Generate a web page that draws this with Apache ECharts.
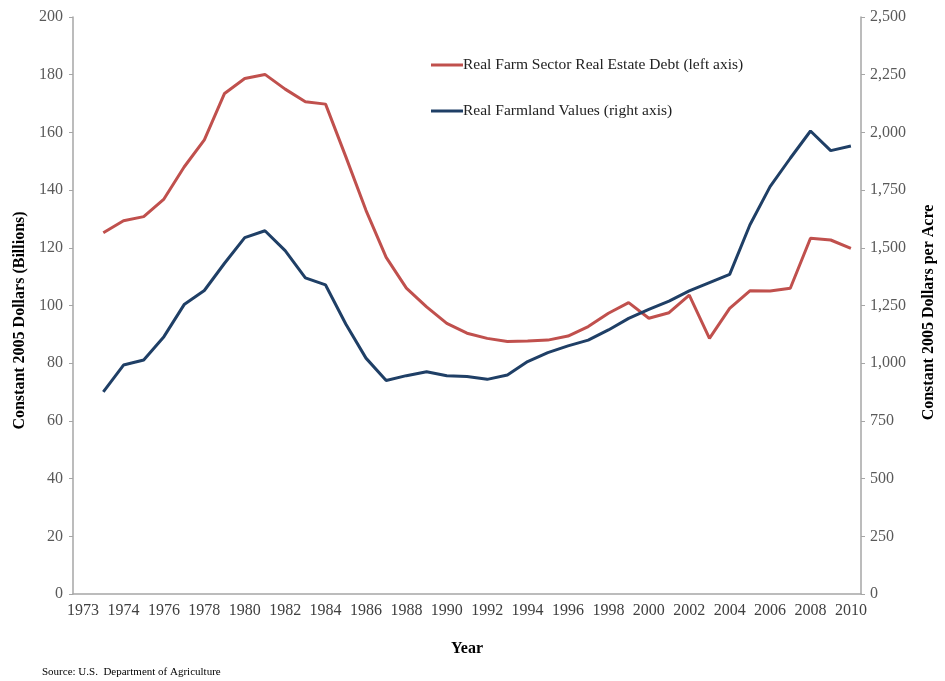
<!DOCTYPE html>
<html>
<head>
<meta charset="utf-8">
<script src="https://cdn.jsdelivr.net/npm/echarts@6/dist/echarts.min.js"></script>
<style>html,body{margin:0;padding:0;background:#fff;overflow:hidden}#c{width:945px;height:681px}</style>
</head>
<body>
<div id="c"></div>
<script>
// Years of data
const years = [1973,1974,1975,1976,1977,1978,1979,1980,1981,1982,1983,1984,1985,1986,1987,1988,1989,1990,1991,1992,1993,1994,1995,1996,1997,1998,1999,2000,2001,2002,2003,2004,2005,2006,2007,2008,2009,2010];
// Real Farm Sector Real Estate Debt (billions, left axis)
const debt = [125.2,129.4,130.8,136.9,148.0,157.4,173.5,178.7,180.1,175.0,170.6,169.8,151.6,133.0,116.7,106.0,99.5,93.8,90.4,88.6,87.5,87.7,88.0,89.4,92.7,97.3,101.0,95.6,97.5,103.6,88.6,99.0,105.1,105.0,106.0,123.3,122.7,119.8];
// Real Farmland Values (dollars per acre, right axis)
const land = [876,992,1014,1115,1254,1315,1433,1544,1574,1488,1370,1339,1170,1022,925,946,963,946,942,930,949,1007,1046,1075,1100,1144,1194,1233,1269,1313,1349,1385,1599,1765,1888,2006,1921,1941];
// Tick labels shown on the category axis (every other slot)
const xTickLabels = ['1973','1974','1976','1978','1980','1982','1984','1986','1988','1990','1992','1994','1996','1998','2000','2002','2004','2006','2008','2010'];

const cats = [''].concat(years.map(String)); // leading empty slot as in the original
const debtData = [null].concat(debt);
const landData = [null].concat(land);

const serif = 'Liberation Serif';
const chart = echarts.init(document.getElementById('c'));
chart.setOption({
  animation: false,
  backgroundColor: '#fff',
  grid: {left: 73, right: 75, top: 17, bottom: 87, containLabel: false},
  legend: {
    orient: 'vertical', left: 426, top: 52, itemGap: 30,
    itemWidth: 32, itemHeight: 3, icon: 'rect',
    textStyle: {fontFamily: serif, fontSize: 15.5, color: '#222', padding: [0, 0, 0, -5]},
    data: ['Real Farm Sector Real Estate Debt (left axis)', 'Real Farmland Values (right axis)']
  },
  xAxis: {
    type: 'category', data: cats, boundaryGap: true,
    name: 'Year', nameLocation: 'middle', nameGap: 47,
    nameTextStyle: {fontFamily: serif, fontSize: 16, fontWeight: 'bold', color: '#000'},
    axisLine: {lineStyle: {color: '#a6a6a6', width: 1.5}},
    axisTick: {interval: 1, length: 4, lineStyle: {color: '#a6a6a6'}},
    axisLabel: {interval: 1, margin: 9, fontFamily: serif, fontSize: 16, color: '#404040',
      formatter: function (v, i) { return xTickLabels[i / 2] || ''; }},
    splitLine: {show: false}
  },
  yAxis: [{
    type: 'value', min: 0, max: 200, interval: 20, position: 'left',
    name: 'Constant 2005 Dollars (Billions)', nameLocation: 'middle', nameGap: 44,
    nameTextStyle: {fontFamily: serif, fontSize: 16, fontWeight: 'bold', color: '#000', padding: [0, 30, 0, 0]},
    axisLine: {show: true, lineStyle: {color: '#a6a6a6', width: 1.5}},
    axisTick: {show: true, length: 4, lineStyle: {color: '#a6a6a6'}},
    axisLabel: {margin: 10, fontFamily: serif, fontSize: 16, color: '#595959'},
    splitLine: {show: false}
  }, {
    type: 'value', min: 0, max: 2500, interval: 250, position: 'right',
    name: 'Constant 2005 Dollars per Acre', nameLocation: 'middle', nameGap: 60,
    nameRotate: 90,
    nameTextStyle: {fontFamily: serif, fontSize: 16, fontWeight: 'bold', color: '#000', padding: [0, 14, 0, 0]},
    axisLine: {show: true, lineStyle: {color: '#a6a6a6', width: 1.5}},
    axisTick: {show: true, length: 4, lineStyle: {color: '#a6a6a6'}},
    axisLabel: {margin: 9, fontFamily: serif, fontSize: 16, color: '#595959',
      formatter: function (v) { return v.toLocaleString('en-US'); }},
    splitLine: {show: false}
  }],
  series: [{
    name: 'Real Farm Sector Real Estate Debt (left axis)', type: 'line', yAxisIndex: 0,
    data: debtData, showSymbol: false, symbol: 'none',
    lineStyle: {color: '#c0504d', width: 3}, itemStyle: {color: '#c0504d'}
  }, {
    name: 'Real Farmland Values (right axis)', type: 'line', yAxisIndex: 1,
    data: landData, showSymbol: false, symbol: 'none',
    lineStyle: {color: '#1f3f66', width: 3}, itemStyle: {color: '#1f3f66'}
  }],
  graphic: [{
    type: 'text', left: 42, top: 667,
    style: {text: 'Source: U.S.  Department of Agriculture', fontFamily: serif, fontSize: 11, fill: '#000'}
  }]
});
</script>
</body>
</html>
